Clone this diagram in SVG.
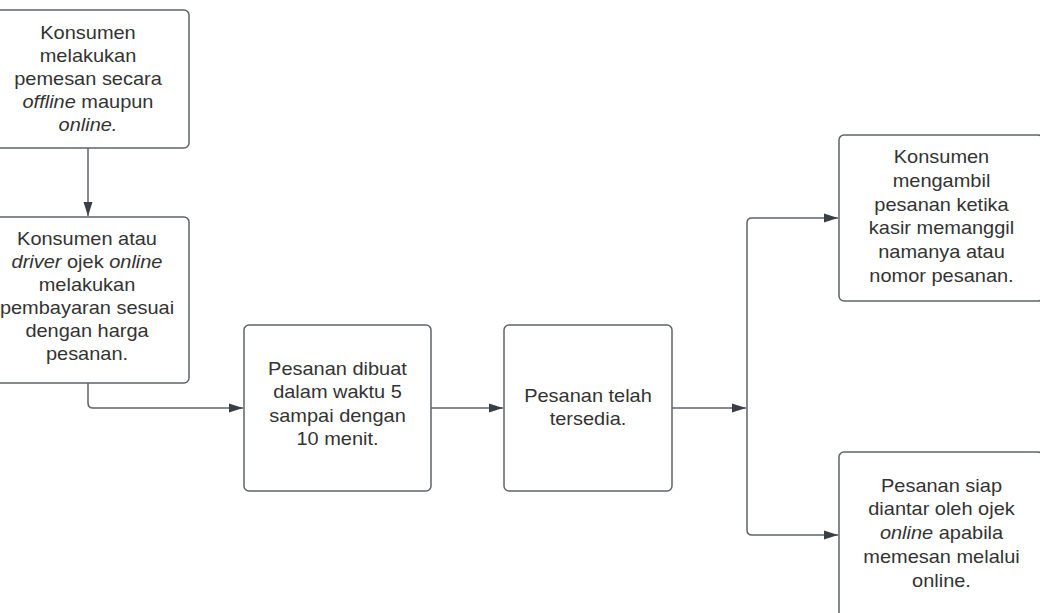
<svg xmlns="http://www.w3.org/2000/svg" width="1040" height="613" viewBox="0 0 1040 613">
<style>
.box{fill:#ffffff;stroke:#5f6368;stroke-width:1.5}
.t{font-family:"Liberation Sans",Arial,sans-serif;font-size:18px;fill:#333333;text-anchor:middle}
.i{font-style:italic}
.c{fill:none;stroke:#5f6368;stroke-width:1.5}
</style>
<defs>
<marker id="ah" markerUnits="userSpaceOnUse" markerWidth="15" markerHeight="10" refX="14" refY="5" orient="auto">
<path d="M0,0.5 L14,5 L0,9.5 z" fill="#3a3f45"/>
</marker>
</defs>
<rect width="1040" height="613" fill="#ffffff"/>
<g id="connectors">
<path class="c" d="M88,148 V216" marker-end="url(#ah)"/>
<path class="c" d="M88,383 V403 Q88,408 93,408 H243" marker-end="url(#ah)"/>
<path class="c" d="M431,408 H503" marker-end="url(#ah)"/>
<path class="c" d="M672,408 H746" marker-end="url(#ah)"/>
<path class="c" d="M747,408 V223 Q747,218 752,218 H838" marker-end="url(#ah)"/>
<path class="c" d="M747,408 V530 Q747,535 752,535 H838" marker-end="url(#ah)"/>
</g>
<g id="node1">
<rect class="box" x="-13" y="10" width="202" height="138" rx="5"/>
<g transform="translate(88 0) scale(1.11 1)">
<text class="t" x="0" y="39">Konsumen</text>
<text class="t" x="0" y="62">melakukan</text>
<text class="t" x="0" y="85">pemesan secara</text>
<text class="t" x="0" y="108"><tspan class="i">offline</tspan> maupun</text>
<text class="t i" x="0" y="131">online.</text>
</g>
</g>
<g id="node2">
<rect class="box" x="-13" y="217" width="202" height="166" rx="5"/>
<g transform="translate(87 0) scale(1.11 1)">
<text class="t" x="0" y="245">Konsumen atau</text>
<text class="t" x="0" y="268"><tspan class="i">driver</tspan> ojek <tspan class="i">online</tspan></text>
<text class="t" x="0" y="291">melakukan</text>
<text class="t" x="0" y="314">pembayaran sesuai</text>
<text class="t" x="0" y="337">dengan harga</text>
<text class="t" x="0" y="360">pesanan.</text>
</g>
</g>
<g id="node3">
<rect class="box" x="244" y="325" width="187" height="166" rx="5"/>
<g transform="translate(337.5 0) scale(1.11 1)">
<text class="t" x="0" y="375">Pesanan dibuat</text>
<text class="t" x="0" y="398.5">dalam waktu 5</text>
<text class="t" x="0" y="422">sampai dengan</text>
<text class="t" x="0" y="445.5">10 menit.</text>
</g>
</g>
<g id="node4">
<rect class="box" x="504" y="325" width="168" height="166" rx="5"/>
<g transform="translate(588 0) scale(1.11 1)">
<text class="t" x="0" y="402.5">Pesanan telah</text>
<text class="t" x="0" y="425.5">tersedia.</text>
</g>
</g>
<g id="node5">
<rect class="box" x="839" y="135" width="204" height="166" rx="5"/>
<g transform="translate(941.5 0) scale(1.11 1)">
<text class="t" x="0" y="163">Konsumen</text>
<text class="t" x="0" y="186.8">mengambil</text>
<text class="t" x="0" y="210.6">pesanan ketika</text>
<text class="t" x="0" y="234.4">kasir memanggil</text>
<text class="t" x="0" y="258.2">namanya atau</text>
<text class="t" x="0" y="282">nomor pesanan.</text>
</g>
</g>
<g id="node6">
<rect class="box" x="839" y="452" width="204" height="166" rx="5"/>
<g transform="translate(941.5 0) scale(1.11 1)">
<text class="t" x="0" y="491.7">Pesanan siap</text>
<text class="t" x="0" y="515.5">diantar oleh ojek</text>
<text class="t" x="0" y="539.3"><tspan class="i">online</tspan> apabila</text>
<text class="t" x="0" y="563.1">memesan melalui</text>
<text class="t" x="0" y="587">online.</text>
</g>
</g>
</svg>
